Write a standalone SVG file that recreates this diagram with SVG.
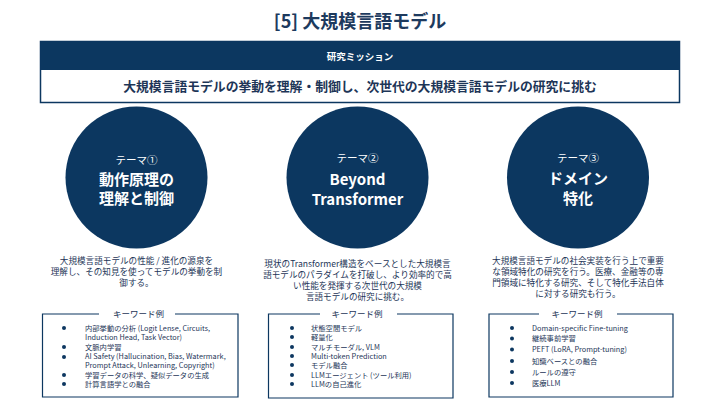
<svg xmlns="http://www.w3.org/2000/svg" width="720" height="405" viewBox="0 0 720 405">
<style>
text{font-family:"Noto Sans CJK JP","Noto Sans",sans-serif;}
.title{font-size:18px;font-weight:bold;fill:#1d3a5e;}
.hdr{font-size:9.5px;font-weight:bold;fill:#fff;}
.mission{font-size:12.8px;font-weight:bold;fill:#1d3557;}
.circ{fill:#0c3760;}
.tm{font-size:10.5px;fill:#fff;}
.th{font-size:15px;font-weight:bold;fill:#fff;}
.desc{font-size:8.6px;fill:#1d3557;}
.kbox{fill:none;stroke:#0c3760;stroke-width:1.2;}
.ktitle{font-size:8.5px;fill:#1d3557;}
.kw{font-size:7.3px;fill:#1d3557;}
.bul{fill:#0c3760;}
</style>
<rect width="720" height="405" fill="#fff"/>
<text class="title" x="360" y="28" text-anchor="middle">[5] 大規模言語モデル</text>

<g id="mission">
<rect x="40.5" y="41.5" width="639" height="61" fill="#fff" stroke="#0c3760" stroke-width="1.5"/>
<rect x="40.5" y="41.5" width="639" height="28.5" fill="#0c3760"/>
<text class="hdr" x="360" y="59.5" text-anchor="middle">研究ミッション</text>
<text class="mission" x="360" y="91" text-anchor="middle">大規模言語モデルの挙動を理解・制御し、次世代の大規模言語モデルの研究に挑む</text>
</g>

<g id="theme1">
<circle class="circ" cx="136.5" cy="177.5" r="71"/>
<text class="tm" x="136.5" y="164" text-anchor="middle">テーマ①</text>
<text class="th" x="136.5" y="185" text-anchor="middle">動作原理の</text>
<text class="th" x="136.5" y="204" text-anchor="middle">理解と制御</text>
<text class="desc" text-anchor="middle"><tspan x="136.5" y="264">大規模言語モデルの性能 / 進化の源泉を</tspan><tspan x="136.5" y="275">理解し、その知見を使ってモデルの挙動を制</tspan><tspan x="136.5" y="286">御する。</tspan></text>
</g>

<g id="theme2">
<circle class="circ" cx="357.5" cy="177.5" r="71"/>
<text class="tm" x="357.5" y="162" text-anchor="middle">テーマ②</text>
<text class="th" x="357.5" y="185" text-anchor="middle">Beyond</text>
<text class="th" x="357.5" y="205" text-anchor="middle">Transformer</text>
<text class="desc" text-anchor="middle"><tspan x="357.5" y="267">現状のTransformer構造をベースとした大規模言</tspan><tspan x="357.5" y="278">語モデルのパラダイムを打破し、より効率的で高</tspan><tspan x="357.5" y="289">い性能を発揮する次世代の大規模</tspan><tspan x="357.5" y="300">言語モデルの研究に挑む。</tspan></text>
</g>

<g id="theme3">
<circle class="circ" cx="578" cy="177.5" r="71"/>
<text class="tm" x="578" y="162" text-anchor="middle">テーマ③</text>
<text class="th" x="578" y="184" text-anchor="middle">ドメイン</text>
<text class="th" x="578" y="204" text-anchor="middle">特化</text>
<text class="desc" text-anchor="middle"><tspan x="578" y="264">大規模言語モデルの社会実装を行う上で重要</tspan><tspan x="578" y="275">な領域特化の研究を行う。医療、金融等の専</tspan><tspan x="578" y="286">門領域に特化する研究、そして特化手法自体</tspan><tspan x="578" y="297">に対する研究も行う。</tspan></text>
</g>

<g id="keywords1">
<path class="kbox" d="M99,314 H42.5 V397 H238 V314 H175"/>
<text class="ktitle" x="138.5" y="317" text-anchor="middle">キーワード例</text>
<g class="bul"><circle cx="64" cy="328" r="2"/><circle cx="64" cy="347" r="2"/><circle cx="64" cy="357" r="2"/><circle cx="64" cy="375" r="2"/><circle cx="64" cy="384" r="2"/></g>
<text class="kw"><tspan x="85" y="330.5">内部挙動の分析 (Logit Lense, Circuits,</tspan><tspan x="85" y="339.5">Induction Head, Task Vector)</tspan><tspan x="85" y="349.5">文脈内学習</tspan><tspan x="85" y="359">AI Safety (Hallucination, Bias, Watermark,</tspan><tspan x="85" y="368">Prompt Attack, Unlearning, Copyright)</tspan><tspan x="85" y="377.5">学習データの科学、疑似データの生成</tspan><tspan x="85" y="386.5">計算言語学との融合</tspan></text>
</g>

<g id="keywords2">
<path class="kbox" d="M320,314 H268.5 V398 H453 V314 H397"/>
<text class="ktitle" x="357" y="317" text-anchor="middle">キーワード例</text>
<g class="bul"><circle cx="292" cy="328" r="2"/><circle cx="292" cy="337" r="2"/><circle cx="292" cy="347" r="2"/><circle cx="292" cy="356" r="2"/><circle cx="292" cy="365" r="2"/><circle cx="292" cy="375" r="2"/><circle cx="292" cy="384" r="2"/></g>
<text class="kw"><tspan x="311" y="330.5">状態空間モデル</tspan><tspan x="311" y="339.5">軽量化</tspan><tspan x="311" y="349.5">マルチモーダル, VLM</tspan><tspan x="311" y="358.5">Multi-token Prediction</tspan><tspan x="311" y="367.5">モデル融合</tspan><tspan x="311" y="377.5">LLMエージェント (ツール利用)</tspan><tspan x="311" y="386.5">LLMの自己進化</tspan></text>
</g>

<g id="keywords3">
<path class="kbox" d="M539,314 H489 V397 H673 V314 H617"/>
<text class="ktitle" x="577" y="317" text-anchor="middle">キーワード例</text>
<g class="bul"><circle cx="512" cy="328" r="2"/><circle cx="512" cy="338.5" r="2"/><circle cx="512" cy="349.5" r="2"/><circle cx="512" cy="361" r="2"/><circle cx="512" cy="372" r="2"/><circle cx="512" cy="383" r="2"/></g>
<text class="kw"><tspan x="532" y="330.5">Domain-specific Fine-tuning</tspan><tspan x="532" y="341">継続事前学習</tspan><tspan x="532" y="352">PEFT (LoRA, Prompt-tuning)</tspan><tspan x="532" y="363.5">知識ベースとの融合</tspan><tspan x="532" y="374.5">ルールの遵守</tspan><tspan x="532" y="385.5">医療LLM</tspan></text>
</g>
<g id="connectors"></g>
</svg>
